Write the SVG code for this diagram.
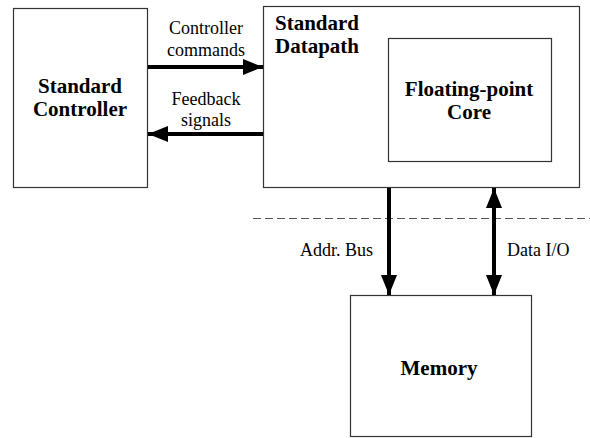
<svg xmlns="http://www.w3.org/2000/svg" width="590" height="438" viewBox="0 0 590 438">
  <style>
    .box { fill: #ffffff; stroke: #333333; stroke-width: 1.2; }
    .bold { font-family: "Liberation Serif", "Times New Roman", serif; font-weight: bold; font-size: 21px; fill: #000; }
    .lbl { font-family: "Liberation Serif", "Times New Roman", serif; font-size: 18px; fill: #000; }
    .wire { stroke: #000; stroke-width: 4; fill: none; }
    .dash { stroke: #555; stroke-width: 1; stroke-dasharray: 8 4; fill: none; }
  </style>
  <defs>
    <marker id="head" markerUnits="userSpaceOnUse" markerWidth="22" markerHeight="18" refX="20" refY="8" orient="auto-start-reverse">
      <path d="M0,0 L20,8 L0,16 Z" fill="#000"/>
    </marker>
  </defs>
  <rect width="590" height="438" fill="#ffffff"/>

  <g id="controller">
    <rect class="box" x="13.5" y="8.5" width="134" height="179"/>
    <text class="bold" x="80" y="93" text-anchor="middle">Standard</text>
    <text class="bold" x="80" y="116" text-anchor="middle">Controller</text>
  </g>

  <g id="datapath">
    <rect class="box" x="263.5" y="6.5" width="316" height="181"/>
    <text class="bold" x="275" y="30">Standard</text>
    <text class="bold" x="275" y="53">Datapath</text>
  </g>

  <g id="fp-core">
    <rect class="box" x="388.5" y="38.5" width="163" height="123"/>
    <text class="bold" x="469" y="96" text-anchor="middle">Floating-point</text>
    <text class="bold" x="469" y="119" text-anchor="middle">Core</text>
  </g>

  <g id="memory">
    <rect class="box" x="350.5" y="295.5" width="181" height="141"/>
    <text class="bold" x="439" y="375" text-anchor="middle">Memory</text>
  </g>

  <line class="dash" x1="253" y1="218.5" x2="590" y2="218.5"/>

  <g id="connectors">
    <line class="wire" x1="148" y1="67" x2="263" y2="67" marker-end="url(#head)"/>
    <line class="wire" x1="263" y1="134" x2="148" y2="134" marker-end="url(#head)"/>
    <line class="wire" x1="389" y1="188" x2="389" y2="295" marker-end="url(#head)"/>
    <line class="wire" x1="494" y1="188" x2="494" y2="295" marker-start="url(#head)" marker-end="url(#head)"/>
  </g>

  <g id="labels">
    <text class="lbl" x="206" y="34" text-anchor="middle">Controller</text>
    <text class="lbl" x="206" y="56" text-anchor="middle">commands</text>
    <text class="lbl" x="206" y="105" text-anchor="middle">Feedback</text>
    <text class="lbl" x="206" y="126" text-anchor="middle">signals</text>
    <text class="lbl" x="373" y="256" text-anchor="end">Addr. Bus</text>
    <text class="lbl" x="507" y="256">Data I/O</text>
  </g>
</svg>
